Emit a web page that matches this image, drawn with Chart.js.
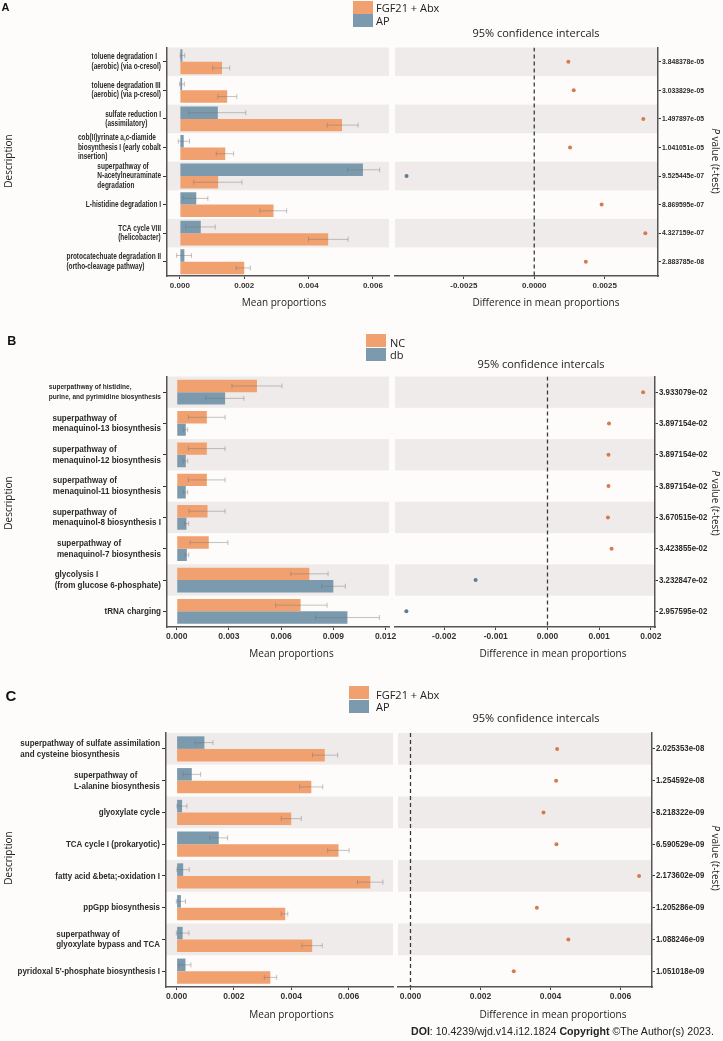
<!DOCTYPE html>
<html><head><meta charset="utf-8">
<script src="https://cdn.jsdelivr.net/npm/chart.js@4.4.1/dist/chart.umd.min.js"></script>
<style>
html,body{margin:0;padding:0;}
body{width:723px;height:1041px;position:relative;overflow:hidden;background:#fdfcfb;font-family:"Open Sans",sans-serif;color:#222;}
canvas{position:absolute;}
.t{position:absolute;white-space:nowrap;line-height:1;transform:translate(-50%,-50%);}
.rl{transform:translate(-50%,-50%) rotate(-90deg);}
.rr{transform:translate(-50%,-50%) rotate(90deg);}
.sw{position:absolute;width:20px;height:13px;}
.lg{position:absolute;font-size:11px;line-height:1;white-space:nowrap;transform:translateY(-50%);}
.let{font-family:"Liberation Sans",Arial,sans-serif;font-weight:bold;color:#111;}
.doi{position:absolute;left:411px;top:1031px;transform:translateY(-50%);font:10.6px "Liberation Sans",Arial,sans-serif;color:#222;white-space:nowrap;}
</style></head><body>
<script>
// ---------------- Panel A ----------------
const A_categories = [
  ["toluene degradation I","(aerobic) (via o-cresol)"],
  ["toluene degradation III","(aerobic) (via p-cresol)"],
  ["sulfate reduction I","(assimilatory)"],
  ["cob(II)yrinate a,c-diamide","biosynthesis I (early cobalt","insertion)"],
  ["superpathway of","N-acetylneuraminate","degradation"],
  ["L-histidine degradation I"],
  ["TCA cycle VIII","(helicobacter)"],
  ["protocatechuate degradation II","(ortho-cleavage pathway)"]
];
const A_groups = ["FGF21 + Abx","AP"];
const A_fgf   = [0.00131,0.00147,0.00504,0.00141,0.00119,0.00291,0.00461,0.00200];
const A_fgfLo = [0.00102,0.00118,0.00458,0.00113,0.00043,0.00249,0.00400,0.00175];
const A_fgfHi = [0.00155,0.00177,0.00554,0.00167,0.00193,0.00332,0.00523,0.00219];
const A_ap    = [0.00008,0.00007,0.00118,0.00012,0.00569,0.00051,0.00065,0.00014];
const A_apLo  = [0.00001,-0.00001,0.00028,-0.00005,0.00521,0.00010,0.00018,-0.00010];
const A_apHi  = [0.00015,0.00014,0.00205,0.00030,0.00621,0.00087,0.00110,0.00036];
const A_diff  = [0.00121,0.00140,0.00387,0.00127,-0.00453,0.00239,0.00394,0.00183];
const A_pvals = ["3.848378e-05","3.033829e-05","1.497897e-05","1.041051e-05","9.525445e-07","8.869595e-07","4.327159e-07","2.883785e-08"];
const A_barTicks = [0,0.002,0.004,0.006];
const A_barTickLabels = ["0.000","0.002","0.004","0.006"];
const A_dotTicks = [-0.0025,0,0.0025];
const A_dotTickLabels = ["-0.0025","0.0000","0.0025"];

// ---------------- Panel B ----------------
const B_categories = [
  ["superpathway of histidine,","purine, and pyrimidine biosynthesis"],
  ["superpathway of","menaquinol-13 biosynthesis"],
  ["superpathway of","menaquinol-12 biosynthesis"],
  ["superpathway of","menaquinol-11 biosynthesis"],
  ["superpathway of","menaquinol-8 biosynthesis I"],
  ["superpathway of","menaquinol-7 biosynthesis"],
  ["glycolysis I","(from glucose 6-phosphate)"],
  ["tRNA charging"]
];
const B_groups = ["NC","db"];
const B_nc   = [0.00461,0.00173,0.00173,0.00173,0.00177,0.00184,0.00762,0.00712];
const B_ncLo = [0.00317,0.00067,0.00067,0.00067,0.00071,0.00077,0.00656,0.00568];
const B_ncHi = [0.00605,0.00278,0.00278,0.00278,0.00278,0.00294,0.00870,0.00864];
const B_db   = [0.00278,0.00052,0.00052,0.00052,0.00056,0.00058,0.00900,0.00981];
const B_dbLo = [0.00167,0.00038,0.00038,0.00038,0.00044,0.00048,0.00833,0.00797];
const B_dbHi = [0.00386,0.00063,0.00063,0.00063,0.00069,0.00069,0.00969,0.01165];
const B_diff = [0.00185,0.00119,0.00118,0.00118,0.00117,0.00124,-0.00139,-0.00273];
const B_pvals = ["3.933079e-02","3.897154e-02","3.897154e-02","3.897154e-02","3.670515e-02","3.423855e-02","3.232847e-02","2.957595e-02"];
const B_barTicks = [0,0.003,0.006,0.009,0.012];
const B_barTickLabels = ["0.000","0.003","0.006","0.009","0.012"];
const B_dotTicks = [-0.002,-0.001,0,0.001,0.002];
const B_dotTickLabels = ["-0.002","-0.001","0.000","0.001","0.002"];

// ---------------- Panel C ----------------
const C_categories = [
  ["superpathway of sulfate assimilation","and cysteine biosynthesis"],
  ["superpathway of","L-alanine biosynthesis"],
  ["glyoxylate cycle"],
  ["TCA cycle I (prokaryotic)"],
  ["fatty acid &beta;-oxidation I"],
  ["ppGpp biosynthesis"],
  ["superpathway of","glyoxylate bypass and TCA"],
  ["pyridoxal 5'-phosphate biosynthesis I"]
];
const C_groups = ["FGF21 + Abx","AP"];
const C_fgf   = [0.00517,0.00470,0.00400,0.00565,0.00676,0.00379,0.00473,0.00327];
const C_fgfLo = [0.00474,0.00429,0.00365,0.00527,0.00631,0.00365,0.00437,0.00306];
const C_fgfHi = [0.00562,0.00510,0.00435,0.00602,0.00720,0.00388,0.00508,0.00349];
const C_ap    = [0.00097,0.00053,0.00019,0.00147,0.00023,0.00015,0.00021,0.00031];
const C_apLo  = [0.00065,0.00022,0.00001,0.00115,0.00001,-0.00001,-0.00001,0.00008];
const C_apHi  = [0.00127,0.00084,0.00036,0.00178,0.00044,0.00031,0.00043,0.00050];
const C_diff  = [0.00419,0.00416,0.00380,0.00417,0.00653,0.00361,0.00451,0.00295];
const C_pvals = ["2.025353e-08","1.254592e-08","8.218322e-09","6.590529e-09","2.173602e-09","1.205286e-09","1.088246e-09","1.051018e-09"];
const C_barTicks = [0,0.002,0.004,0.006];
const C_barTickLabels = ["0.000","0.002","0.004","0.006"];
const C_dotTicks = [0,0.002,0.004,0.006];
const C_dotTickLabels = ["0.000","0.002","0.004","0.006"];

// ---------------- styles ----------------
const ORANGE = "#F1A16F", BLUE = "#7B9AAD", DOT_O = "#D47C4C", DOT_B = "#5D7C90";
const STRIPE = "#EFEBEA", AXIS = "#555", INK = "#2a2a2a";
const LAB_FONT = '"Liberation Sans", Arial, sans-serif';

function drawBlock(ctx, lines, xRight, yc, size, k, lh) {
  ctx.save();
  ctx.font = "bold " + size + "px " + LAB_FONT;
  ctx.fillStyle = INK; ctx.textBaseline = "middle"; ctx.textAlign = "left";
  let w = 0; lines.forEach(s => { w = Math.max(w, ctx.measureText(s).width * k); });
  const x0 = xRight - w;
  lines.forEach((s, j) => {
    const y = yc + (j - (lines.length - 1) / 2) * lh;
    ctx.save(); ctx.translate(x0, y); ctx.scale(k, 1); ctx.fillText(s, 0, 0); ctx.restore();
  });
  ctx.restore();
}

function deco(cfg) {
  return {
    id: "deco",
    beforeDraw(chart) {
      const {ctx, chartArea: a} = chart, y = chart.scales.y;
      ctx.save(); ctx.fillStyle = STRIPE;
      for (let i = 0; i < cfg.n; i += 2) {
        const p1 = y.getPixelForValue(i - 0.5), p2 = y.getPixelForValue(i + 0.5);
        ctx.fillRect(a.left, Math.min(p1, p2), a.right - a.left, Math.abs(p2 - p1));
      }
      ctx.restore();
    },
    afterDatasetsDraw(chart) {
      if (!cfg.err) return;
      const ctx = chart.ctx, xs = chart.scales.x;
      ctx.save(); ctx.strokeStyle = "rgba(115,115,115,0.42)"; ctx.lineWidth = 1;
      cfg.err.forEach((e, d) => {
        chart.getDatasetMeta(d).data.forEach((bar, i) => {
          const x1 = xs.getPixelForValue(e[0][i]), x2 = xs.getPixelForValue(e[1][i]), yy = bar.y, c = 2.5;
          ctx.beginPath();
          ctx.moveTo(x1, yy); ctx.lineTo(x2, yy);
          ctx.moveTo(x1, yy - c); ctx.lineTo(x1, yy + c);
          ctx.moveTo(x2, yy - c); ctx.lineTo(x2, yy + c);
          ctx.stroke();
        });
      });
      ctx.restore();
    },
    afterDraw(chart) {
      const ctx = chart.ctx, a = chart.chartArea, y = chart.scales.y;
      if (cfg.cats) {
        cfg.cats.forEach((lines, i) => {
          const st = (cfg.small && cfg.small.indexOf(i) >= 0) ? cfg.smallLab : cfg.lab;
          drawBlock(ctx, lines, a.left - 6, y.getPixelForValue(i), st.size, st.k, st.lh);
        });
      }
      if (cfg.pvals) {
        ctx.save();
        ctx.font = "bold " + cfg.plab.size + "px " + LAB_FONT;
        ctx.fillStyle = INK; ctx.textBaseline = "middle"; ctx.textAlign = "left";
        cfg.pvals.forEach((s, i) => {
          ctx.save(); ctx.translate(a.right + 4, y.getPixelForValue(i)); ctx.scale(cfg.plab.k, 1);
          ctx.fillText(s, 0, 0); ctx.restore();
        });
        ctx.restore();
      }
    }
  };
}

function mkCanvas(x, y, w, h) {
  const c = document.createElement("canvas");
  c.width = w; c.height = h;
  c.style.left = x + "px"; c.style.top = y + "px";
  c.style.width = w + "px"; c.style.height = h + "px";
  document.body.appendChild(c);
  return c;
}
function txt(html, x, y, cls, style) {
  const d = document.createElement("div");
  d.className = "t " + (cls || "");
  d.innerHTML = html;
  d.style.left = x + "px"; d.style.top = y + "px";
  if (style) d.style.cssText += style;
  document.body.appendChild(d);
  return d;
}
function legend(items, x, y, textX, textYs) {
  items.forEach((it, i) => {
    const s = document.createElement("div");
    s.className = "sw"; s.style.left = x + "px"; s.style.top = (y + i * 13.5) + "px"; s.style.background = it.color;
    document.body.appendChild(s);
    const t = document.createElement("div");
    t.className = "lg"; t.textContent = it.label; t.style.left = textX + "px"; t.style.top = textYs[i] + "px";
    document.body.appendChild(t);
  });
}

function axisX(min, max, ticks, labels, size, hgt) {
  return {
    type: "linear", position: "bottom", min: min, max: max,
    afterBuildTicks: s => { s.ticks = ticks.map(v => ({value: v})); },
    afterFit: s => { s.height = hgt; },
    ticks: {callback: (v, i) => labels[i], font: {family: LAB_FONT, size: size, weight: "bold"}, color: "#333", padding: 2, maxRotation: 0, autoSkip: false},
    grid: {display: true, drawOnChartArea: false, drawTicks: true, tickLength: 3, tickColor: "#444", tickWidth: 1},
    border: {display: true, color: AXIS, width: 1.5}
  };
}

function panel(P) {
  const ch = Math.round(P.bar.b + 22 - P.top);
  const cw = Math.round(P.bar.r + 14);
  const c1 = mkCanvas(0, P.top, cw, ch);
  new Chart(c1, {
    type: "bar",
    data: {
      labels: P.cats.map(c => c.join(" ")),
      datasets: P.series.map(s => ({label: s.label, data: s.data, backgroundColor: s.color, borderWidth: 0, barPercentage: 1, categoryPercentage: P.catPct}))
    },
    options: {
      indexAxis: "y", responsive: false, animation: false, events: [], devicePixelRatio: 1,
      layout: {autoPadding: false, padding: {left: 0, top: P.bar.t - P.top, right: cw - P.bar.r, bottom: 0}},
      plugins: {legend: {display: false}, tooltip: {enabled: false}},
      scales: {
        x: axisX(P.xMin, P.xMax, P.xTicks, P.xLabels, P.tick, 22),
        y: {type: "category", position: "left", afterFit: s => { s.width = P.bar.l; },
            ticks: {display: false},
            grid: {display: true, offset: false, drawOnChartArea: false, drawTicks: true, tickLength: 4, tickColor: "#333", tickWidth: 1},
            border: {display: true, color: AXIS, width: 1.5}}
      }
    },
    plugins: [deco({n: P.cats.length, cats: P.cats, lab: P.lab, small: P.small, smallLab: P.smallLab,
                    err: P.series.map(s => [s.lo, s.hi])})]
  });

  const dl = Math.floor(P.dot.l) - 3;
  const dw = 723 - dl;
  const c2 = mkCanvas(dl, P.top, dw, ch);
  const n = P.pvals.length;
  new Chart(c2, {
    type: "scatter",
    data: {datasets: [
      {type: "line", data: [{x: 0, y: -0.5}, {x: 0, y: n - 0.5}], borderColor: "#3a3a3a", borderWidth: 1.3, borderDash: [4, 3], pointRadius: 0, fill: false},
      {type: "scatter", data: P.diff.map((d, i) => ({x: d, y: i})), pointRadius: 2, pointBorderWidth: 0,
       pointBackgroundColor: P.diff.map(d => d >= 0 ? DOT_O : DOT_B)}
    ]},
    options: {
      responsive: false, animation: false, events: [], devicePixelRatio: 1,
      layout: {autoPadding: false, padding: {left: P.dot.l - dl, top: P.bar.t - P.top, right: 0, bottom: 0}},
      plugins: {legend: {display: false}, tooltip: {enabled: false}},
      scales: {
        x: axisX(P.dMin, P.dMax, P.dTicks, P.dLabels, P.tick, 22),
        y: {type: "linear", position: "right", reverse: true, min: -0.5, max: n - 0.5,
            afterBuildTicks: s => { s.ticks = P.pvals.map((_, i) => ({value: i})); },
            afterFit: s => { s.width = 723 - P.dot.r; },
            ticks: {display: false},
            grid: {display: true, drawOnChartArea: false, drawTicks: true, tickLength: 3, tickColor: "#333", tickWidth: 1},
            border: {display: true, color: AXIS, width: 1.5}}
      }
    },
    plugins: [deco({n: n, pvals: P.pvals, plab: P.plab})]
  });
}

panel({
  top: 0, bar: {l: 167, r: 389, t: 47.5, b: 276}, dot: {l: 395, r: 658},
  cats: A_categories,
  series: [{label: A_groups[1], data: A_ap, lo: A_apLo, hi: A_apHi, color: BLUE},
           {label: A_groups[0], data: A_fgf, lo: A_fgfLo, hi: A_fgfHi, color: ORANGE}],
  catPct: 0.87, xMin: -0.0004, xMax: 0.0065, xTicks: A_barTicks, xLabels: A_barTickLabels,
  dMin: -0.00494, dMax: 0.00439, dTicks: A_dotTicks, dLabels: A_dotTickLabels,
  diff: A_diff, pvals: A_pvals, tick: 8,
  lab: {size: 8.3, k: 0.78, lh: 9.3}, plab: {size: 8, k: 0.85}
});
panel({
  top: 330, bar: {l: 167, r: 389, t: 376.5, b: 626.5}, dot: {l: 395, r: 655},
  cats: B_categories,
  series: [{label: B_groups[0], data: B_nc, lo: B_ncLo, hi: B_ncHi, color: ORANGE},
           {label: B_groups[1], data: B_db, lo: B_dbLo, hi: B_dbHi, color: BLUE}],
  catPct: 0.79, xMin: -0.00056, xMax: 0.0122, xTicks: B_barTicks, xLabels: B_barTickLabels,
  dMin: -0.00295, dMax: 0.00208, dTicks: B_dotTicks, dLabels: B_dotTickLabels,
  diff: B_diff, pvals: B_pvals, tick: 8.5,
  lab: {size: 9.5, k: 0.85, lh: 10.6}, small: [0], smallLab: {size: 8, k: 0.82, lh: 10},
  plab: {size: 9, k: 0.87}
});
panel({
  top: 680, bar: {l: 166, r: 393, t: 733, b: 987}, dot: {l: 398, r: 652},
  cats: C_categories,
  series: [{label: C_groups[1], data: C_ap, lo: C_apLo, hi: C_apHi, color: BLUE},
           {label: C_groups[0], data: C_fgf, lo: C_fgfLo, hi: C_fgfHi, color: ORANGE}],
  catPct: 0.79, xMin: -0.00037, xMax: 0.00755, xTicks: C_barTicks, xLabels: C_barTickLabels,
  dMin: -0.000357, dMax: 0.0069, dTicks: C_dotTicks, dLabels: C_dotTickLabels,
  diff: C_diff, pvals: C_pvals, tick: 8.5,
  lab: {size: 9.5, k: 0.84, lh: 10.7}, plab: {size: 9, k: 0.87}
});

// panel letters
txt("A", 5.5, 6.5, "let", "font-size:11px;");
txt("B", 11.7, 341, "let", "font-size:12.5px;");
txt("C", 11, 695, "let", "font-size:15px;");

// legends
legend([{label: A_groups[0], color: ORANGE}, {label: A_groups[1], color: BLUE}], 353, 0.5, 376, [7, 19.5]);
legend([{label: B_groups[0], color: ORANGE}, {label: B_groups[1], color: BLUE}], 366, 334, 390, [341.5, 354]);
legend([{label: C_groups[0], color: ORANGE}, {label: C_groups[1], color: BLUE}], 349, 686, 376, [694, 706]);

// titles
const CI = "95% confidence intercals";
txt(CI, 536, 32, "", "font-size:11px;");
txt(CI, 541, 363, "", "font-size:11px;");
txt(CI, 536, 717, "", "font-size:11px;");
[[161, 302, 284, 546], [503, 653, 291.5, 553], [858, 1014, 291.5, 553]].forEach(r => {
  txt("Description", 8, r[0], "rl", "font-size:10px;");
  txt("Mean proportions", r[2], r[1], "", "font-size:10px;");
  txt("Difference in mean proportions", r[3], r[1], "", "font-size:10px;");
  txt("<i>P</i> value (<i>t</i>-test)", 715.5, r[0], "rr", "font-size:10px;");
});

const d = document.createElement("div");
d.className = "doi";
d.innerHTML = "<b>DOI</b>: 10.4239/wjd.v14.i12.1824 <b>Copyright</b> ©The Author(s) 2023.";
document.body.appendChild(d);
</script>
</body></html>
